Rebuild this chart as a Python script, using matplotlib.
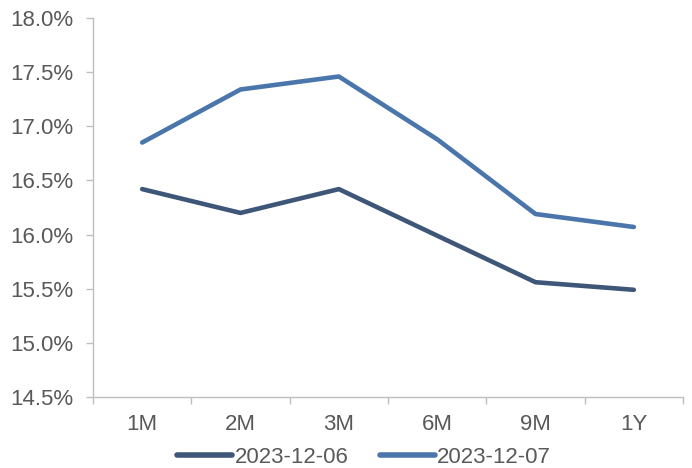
import matplotlib
matplotlib.use("Agg")
import matplotlib.pyplot as plt
from matplotlib.ticker import FuncFormatter, FixedLocator

plt.rcParams["font.family"] = ["Liberation Sans", "DejaVu Sans"]

tenors = ["1M", "2M", "3M", "6M", "9M", "1Y"]
s_1206 = [16.42, 16.20, 16.42, 15.99, 15.56, 15.49]
s_1207 = [16.85, 17.34, 17.46, 16.88, 16.19, 16.07]
series = [("2023-12-06", s_1206, "#3E5677"), ("2023-12-07", s_1207, "#4A76AB")]

fig = plt.figure(figsize=(6.92, 4.68), dpi=100)
ax = fig.add_axes([0.1344, 0.1517, 0.8526, 0.8098])

x = list(range(len(tenors)))
for name, vals, col in series:
    ax.plot(x, vals, color=col, lw=3.3, solid_capstyle="round",
            solid_joinstyle="round", label=name)

ax.set_xlim(-0.5, len(tenors) - 0.5)
ax.set_ylim(14.5, 18.0)
ax.set_yticks([14.5 + 0.5 * i for i in range(8)])
ax.yaxis.set_major_formatter(FuncFormatter(lambda v, p: f"{v:.1f}%"))

# category labels centred, tick marks on the boundaries
ax.set_xticks(x)
ax.set_xticklabels(tenors)
ax.tick_params(axis="x", length=0, pad=12)
ax.xaxis.set_minor_locator(FixedLocator([i - 0.5 for i in range(len(tenors) + 1)]))
ax.tick_params(axis="x", which="minor", length=5, color="#BFBFBF", width=1)
ax.tick_params(axis="y", length=5, color="#BFBFBF", width=1, pad=9)
ax.tick_params(labelsize=16, labelcolor="#595959")

for side in ["top", "right"]:
    ax.spines[side].set_visible(False)
for side in ["left", "bottom"]:
    ax.spines[side].set_color("#BFBFBF")
    ax.spines[side].set_linewidth(1)

leg = fig.legend(loc="lower center", bbox_to_anchor=(0.526, -0.042), ncol=2,
                 frameon=False, fontsize=16, handlelength=2.5, handletextpad=0.1,
                 columnspacing=1.4, labelcolor="#595959")
for h in leg.legend_handles:
    h.set_linewidth(4)

fig.savefig("out.png", dpi=100)
